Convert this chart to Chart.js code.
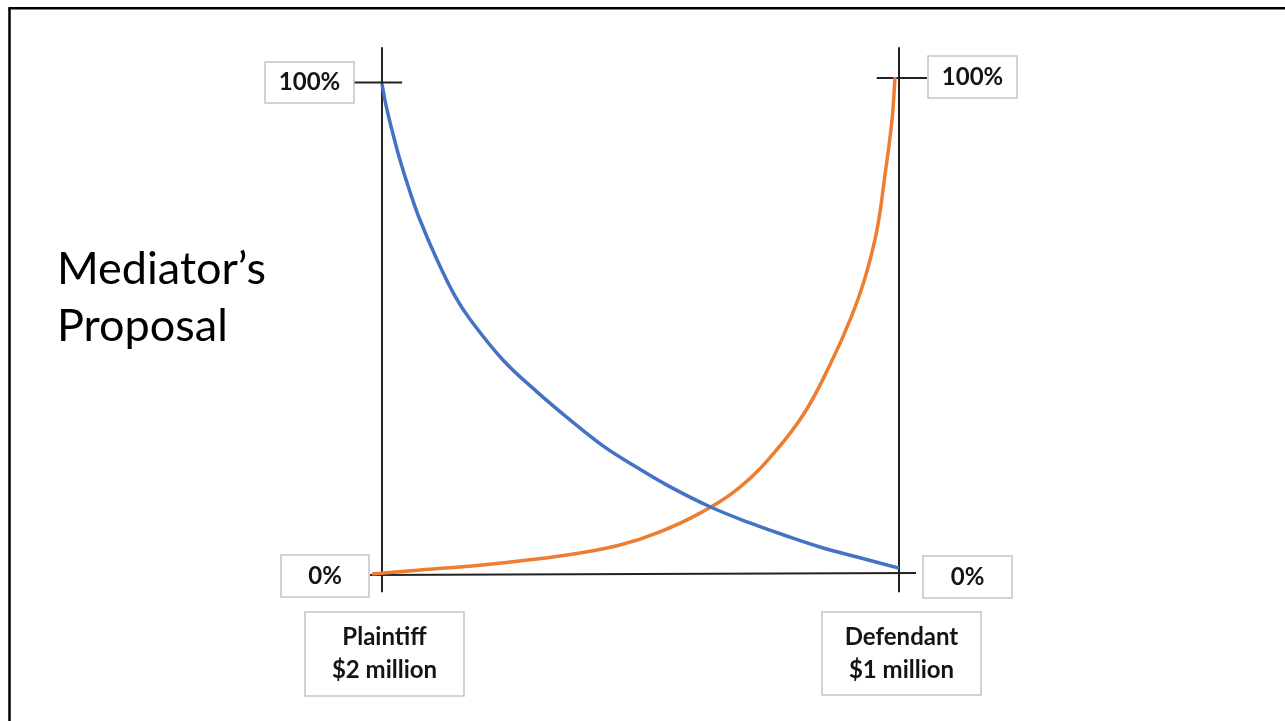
<!DOCTYPE html>
<html>
<head>
<meta charset="utf-8">
<title>Mediator's Proposal</title>
<script src="https://cdn.jsdelivr.net/npm/chart.js@4"></script>
<style>
  html, body { margin: 0; padding: 0; background: #fff; }
  #wrap { position: relative; width: 1285px; height: 721px; overflow: hidden; }
</style>
</head>
<body>
<div id="wrap">
  <canvas id="myChart" width="1285" height="721"></canvas>
</div>
<script>
'use strict';

// plaintiff side (blue) - falls from 100% to almost 0
var plaintiffX = [0, 0.77, 1.93, 3.48, 5.42, 7.35, 10.64, 14.12, 17.02, 23.40, 29.98, 36.36, 42.75, 48.55, 55.13, 63.44, 71.18, 77.56, 84.72, 92.46, 100];
var plaintiffY = [100, 95.7, 90.6, 84.5, 78.0, 72.3, 64.2, 56.8, 52.1, 43.8, 37.3, 31.6, 26.3, 22.4, 18.3, 13.9, 10.6, 8.2, 5.7, 3.5, 1.4];

// defendant side (orange) - rises from 0 to 100%
var defendantX = [-1.93, 7.35, 18.96, 28.63, 38.30, 46.03, 53.77, 61.51, 69.25, 76.02, 81.82, 86.65, 90.52, 93.42, 95.74, 97.29, 98.65, 99.23];
var defendantY = [0.2, 1.0, 2.0, 3.1, 4.5, 6.1, 8.8, 12.6, 17.9, 25.1, 33.2, 42.8, 51.9, 60.5, 70.3, 81.5, 92.7, 101.4];

var topLabel = '100%';
var bottomLabel = '0%';
var leftParty = ['Plaintiff', '$2 million'];
var rightParty = ['Defendant', '$1 million'];
var titleLines = ['Mediator\u2019s', 'Proposal'];

function toPoints(xs, ys) {
    var pts = [];
    for (var i = 0; i < xs.length; i++) {
        pts.push({ x: xs[i], y: ys[i] });
    }
    return pts;
}

function line(ctx, x1, y1, x2, y2) {
    ctx.beginPath();
    ctx.moveTo(x1, y1);
    ctx.lineTo(x2, y2);
    ctx.stroke();
}

function box(ctx, x, y, w, h, lines) {
    ctx.save();
    ctx.strokeStyle = '#c4c4c4';
    ctx.lineWidth = 1.5;
    ctx.fillStyle = '#fff';
    ctx.fillRect(x, y, w, h);
    ctx.strokeRect(x, y, w, h);
    ctx.fillStyle = '#141414';
    ctx.font = 'bold 24px Lato';
    ctx.textAlign = 'center';
    ctx.textBaseline = 'middle';
    var lh = 33;
    var start = y + h / 2 - (lines.length - 1) * lh / 2;
    for (var i = 0; i < lines.length; i++) {
        ctx.fillText(lines[i], x + w / 2, start + i * lh);
    }
    ctx.restore();
}

// axes crosses drawn under the curves
var axesPlugin = {
    id: 'axesPlugin',
    beforeDatasetsDraw: function (chart) {
        var ctx = chart.ctx;
        var xs = chart.scales.x;
        var ys = chart.scales.y;
        ctx.save();
        ctx.strokeStyle = '#222';
        ctx.lineWidth = 2;
        line(ctx, xs.getPixelForValue(0), ys.getPixelForValue(107.5), xs.getPixelForValue(0), ys.getPixelForValue(-3.5));
        line(ctx, xs.getPixelForValue(100), ys.getPixelForValue(107.5), xs.getPixelForValue(100), ys.getPixelForValue(-3.5));
        line(ctx, xs.getPixelForValue(-2.3), ys.getPixelForValue(0), xs.getPixelForValue(103.3), ys.getPixelForValue(0.4));
        line(ctx, xs.getPixelForValue(-5.4), ys.getPixelForValue(100.3), xs.getPixelForValue(3.9), ys.getPixelForValue(100.3));
        line(ctx, xs.getPixelForValue(95.7), ys.getPixelForValue(101.2), xs.getPixelForValue(105.4), ys.getPixelForValue(101.2));
        ctx.restore();
    },
    afterDraw: function (chart) {
        var ctx = chart.ctx;
        var xs = chart.scales.x;
        var ys = chart.scales.y;
        var x0 = xs.getPixelForValue(0);
        var x1 = xs.getPixelForValue(100);
        var yTop = ys.getPixelForValue(100);
        var yBot = ys.getPixelForValue(0);

        box(ctx, x0 - 117, yTop - 22, 89, 41, [topLabel]);
        box(ctx, x1 + 29, yTop - 28, 89, 42, [topLabel]);
        box(ctx, x0 - 101, yBot - 20, 88, 42, [bottomLabel]);
        box(ctx, x1 + 24, yBot - 19, 89, 42, [bottomLabel]);
        box(ctx, x0 - 77, yBot + 37, 159, 84, leftParty);
        box(ctx, x1 - 77, yBot + 37, 159, 83, rightParty);

        // slide title
        ctx.save();
        ctx.fillStyle = '#000';
        ctx.font = '45px Lato';
        ctx.textAlign = 'left';
        ctx.textBaseline = 'alphabetic';
        ctx.fillText(titleLines[0], 57, 284);
        ctx.fillText(titleLines[1], 57, 341);

        // slide frame (left and top edges)
        ctx.strokeStyle = '#000';
        ctx.lineWidth = 2.5;
        line(ctx, 9.5, 8.3, 9.5, 721);
        line(ctx, 8.3, 8.3, 1285, 8.3);
        ctx.restore();
    }
};

var ctx = document.getElementById('myChart').getContext('2d');
var chart = new Chart(ctx, {
    type: 'scatter',
    data: {
        datasets: [{
            label: 'Plaintiff',
            data: toPoints(plaintiffX, plaintiffY),
            showLine: true,
            borderColor: '#4472C4',
            backgroundColor: '#4472C4',
            borderWidth: 3.5,
            pointRadius: 0,
            tension: 0.4,
            clip: false
        },
        {
            label: 'Defendant',
            data: toPoints(defendantX, defendantY),
            showLine: true,
            borderColor: '#ED7D31',
            backgroundColor: '#ED7D31',
            borderWidth: 3.5,
            pointRadius: 0,
            tension: 0.4,
            clip: false
        }]
    },
    options: {
        responsive: false,
        animation: false,
        layout: { padding: { left: 382, right: 386, top: 84, bottom: 146 } },
        plugins: {
            legend: { display: false },
            tooltip: { enabled: false }
        },
        scales: {
            x: { type: 'linear', min: 0, max: 100, display: false },
            y: { type: 'linear', min: 0, max: 100, display: false }
        }
    },
    plugins: [axesPlugin]
});
</script>
</body>
</html>
